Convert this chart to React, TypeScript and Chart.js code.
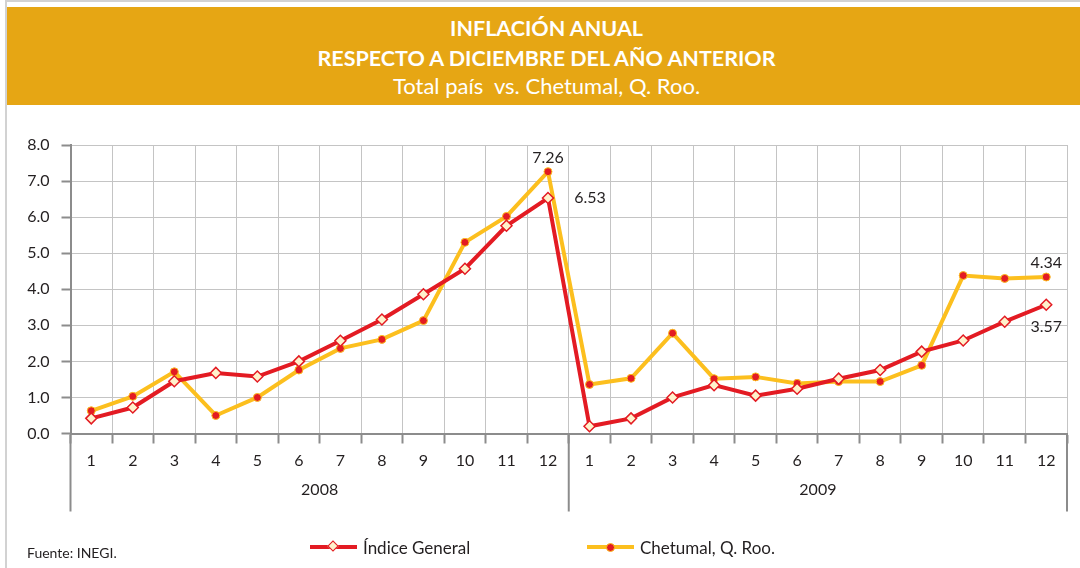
import React, { useEffect, useRef } from "react";
import { Chart, registerables } from "chart.js";

Chart.register(...registerables);

const years = ["2008", "2009"];
const months = ["1", "2", "3", "4", "5", "6", "7", "8", "9", "10", "11", "12"];
const yTicksMin = 0;
const yTicksMax = 8;

const indiceGeneral = [
  0.42, 0.72, 1.45, 1.68, 1.58, 2.0, 2.57, 3.16, 3.86, 4.57, 5.76, 6.53,
  0.2, 0.42, 1.0, 1.34, 1.05, 1.24, 1.52, 1.76, 2.27, 2.58, 3.1, 3.57,
];
const chetumal = [
  0.63, 1.03, 1.71, 0.5, 1.0, 1.76, 2.36, 2.61, 3.13, 5.3, 6.02, 7.26,
  1.36, 1.53, 2.78, 1.52, 1.57, 1.39, 1.44, 1.44, 1.89, 4.38, 4.3, 4.34,
];

// which points carry a value label: [datasetIndex, pointIndex, placement]
const valueLabels: [number, number, string][] = [
  [1, 11, "above"],
  [0, 11, "right"],
  [1, 23, "above"],
  [0, 23, "below"],
];

const RED = "#E31B23";
const YELLOW = "#FCBF1E";
const ORANGE = "#E6A614";
const AXIS = "#8c8c8c";
const GRID = "#c4c4c4";
const TEXT = "#231f20";
const FONT = "Lato, 'Open Sans', sans-serif";

const labels = years.flatMap((y) => months.map((m) => m));

const extrasPlugin = {
  id: "extras",
  afterDraw(chart: any) {
    const ctx = chart.ctx;
    const x = chart.scales.x;
    const area = chart.chartArea;
    const n = labels.length;
    const per = months.length;
    ctx.save();
    // year separators
    ctx.strokeStyle = AXIS;
    ctx.lineWidth = 2;
    const bottom = area.bottom;
    const sepBottom = bottom + 78;
    for (let g = 0; g <= years.length; g++) {
      const i = g * per;
      let px: number;
      if (i === 0) px = area.left;
      else if (i >= n) px = area.right;
      else px = (x.getPixelForValue(i - 1) + x.getPixelForValue(i)) / 2;
      ctx.beginPath();
      ctx.moveTo(px, bottom);
      ctx.lineTo(px, sepBottom);
      ctx.stroke();
    }
    // year labels
    ctx.fillStyle = TEXT;
    ctx.font = `16px ${FONT}`;
    ctx.textAlign = "center";
    ctx.textBaseline = "middle";
    years.forEach((yr, g) => {
      const cx = (x.getPixelForValue(g * per) + x.getPixelForValue(g * per + per - 1)) / 2;
      ctx.fillText(yr, cx, bottom + 56);
    });
    // value labels
    valueLabels.forEach(([ds, idx, place]) => {
      const meta = chart.getDatasetMeta(ds);
      const pt = meta.data[idx];
      const v = chart.data.datasets[ds].data[idx] as number;
      const txt = v.toFixed(2);
      let tx = pt.x;
      let ty = pt.y;
      ctx.textAlign = "center";
      if (place === "above") ty -= 14;
      else if (place === "below") ty += 22;
      else if (place === "right") tx += 42;
      ctx.fillText(txt, tx, ty);
    });
    ctx.restore();
  },
};

function LegendItem({ color, marker, text, left }: { color: string; marker: "diamond" | "dot"; text: string; left: number }) {
  return (
    <div style={{ position: "absolute", left, top: 535, height: 24, display: "flex", alignItems: "center" }}>
      <div style={{ position: "relative", width: 47, height: 4, background: color, marginRight: 6 }}>
        {marker === "diamond" ? (
          <div
            style={{
              position: "absolute",
              left: 19,
              top: -3,
              width: 8,
              height: 8,
              background: "#FFF2CC",
              border: `1.5px solid ${RED}`,
              transform: "rotate(45deg)",
              boxSizing: "border-box",
            }}
          />
        ) : (
          <div
            style={{
              position: "absolute",
              left: 19,
              top: -2.5,
              width: 9,
              height: 9,
              borderRadius: "50%",
              background: RED,
              border: `1px solid ${YELLOW}`,
              boxSizing: "border-box",
            }}
          />
        )}
      </div>
      <span style={{ fontFamily: FONT, fontSize: 17, color: TEXT, whiteSpace: "nowrap" }}>{text}</span>
    </div>
  );
}

export default function App() {
  const canvasRef = useRef<HTMLCanvasElement | null>(null);

  useEffect(() => {
    document.body.style.margin = "0";
    const canvas = canvasRef.current;
    if (!canvas) return;
    const chart = new Chart(canvas, {
      type: "line",
      data: {
        labels,
        datasets: [
          {
            label: "Índice General",
            data: indiceGeneral,
            borderColor: RED,
            borderWidth: 4,
            pointStyle: "rectRot",
            pointRadius: 5.5,
            pointBackgroundColor: "#FFF2CC",
            pointBorderColor: RED,
            pointBorderWidth: 1.5,
            tension: 0,
            order: 0,
          },
          {
            label: "Chetumal, Q. Roo.",
            data: chetumal,
            borderColor: YELLOW,
            borderWidth: 4,
            pointStyle: "circle",
            pointRadius: 4,
            pointBackgroundColor: RED,
            pointBorderColor: YELLOW,
            pointBorderWidth: 1,
            tension: 0,
            order: 1,
          },
        ],
      },
      options: {
        animation: false,
        responsive: false,
        devicePixelRatio: 1,
        layout: { padding: { left: 0, right: 13, top: 40, bottom: 0 } },
        plugins: {
          legend: { display: false },
          tooltip: { enabled: false },
          title: { display: false },
        },
        scales: {
          x: {
            type: "category",
            offset: true,
            grid: {
              offset: true,
              color: GRID,
              lineWidth: 1,
              tickLength: 10,
              tickColor: AXIS,
              tickWidth: 2,
            },
            border: { color: AXIS, width: 2 },
            ticks: {
              font: { family: FONT, size: 16 },
              color: TEXT,
              padding: 8,
              maxRotation: 0,
              autoSkip: false,
            },
            afterFit: (s: any) => {
              s.height = 134.5;
            },
          },
          y: {
            min: yTicksMin,
            max: yTicksMax,
            ticks: {
              stepSize: 1,
              font: { family: FONT, size: 16 },
              color: TEXT,
              padding: 12,
              callback: (v: any) => Number(v).toFixed(1),
            },
            grid: { color: GRID, lineWidth: 1, tickLength: 9, tickColor: AXIS, tickWidth: 2 },
            border: { color: AXIS, width: 2 },
            afterFit: (s: any) => {
              s.width = 70.5;
            },
          },
        },
      },
      plugins: [extrasPlugin],
    });
    return () => chart.destroy();
  }, []);

  return (
    <div style={{ position: "relative", width: 1080, height: 568, overflow: "hidden", background: "#fff" }}>
      <div style={{ position: "absolute", left: 5, top: 0, width: 1075, height: 568, borderLeft: "2px solid #d2d2d2", borderTop: "2px solid #d2d2d2", boxSizing: "border-box" }} />
      <div
        style={{
          position: "absolute",
          left: 7,
          top: 7,
          width: 1073,
          height: 98,
          background: ORANGE,
          color: "#fff",
          textAlign: "center",
          fontFamily: FONT,
        }}
      >
        <div style={{ position: "absolute", left: 0, right: -6, top: 6, fontSize: 21.5, fontWeight: 700, lineHeight: "30px" }}>
          INFLACIÓN ANUAL
          <br />
          RESPECTO A DICIEMBRE DEL AÑO ANTERIOR
        </div>
        <div style={{ position: "absolute", left: 0, right: -6, top: 65, fontSize: 22, fontWeight: 400, lineHeight: "28px", whiteSpace: "pre" }}>
          {"Total país  vs. Chetumal, Q. Roo."}
        </div>
      </div>
      <canvas ref={canvasRef} width={1080} height={463} style={{ position: "absolute", left: 0, top: 105, width: 1080, height: 463 }} />
      <div style={{ position: "absolute", left: 27, top: 544, fontFamily: FONT, fontSize: 14, color: TEXT }}>Fuente: INEGI.</div>
      <LegendItem color={RED} marker="diamond" text="Índice General" left={310} />
      <LegendItem color={YELLOW} marker="dot" text="Chetumal, Q. Roo." left={587} />
    </div>
  );
}
